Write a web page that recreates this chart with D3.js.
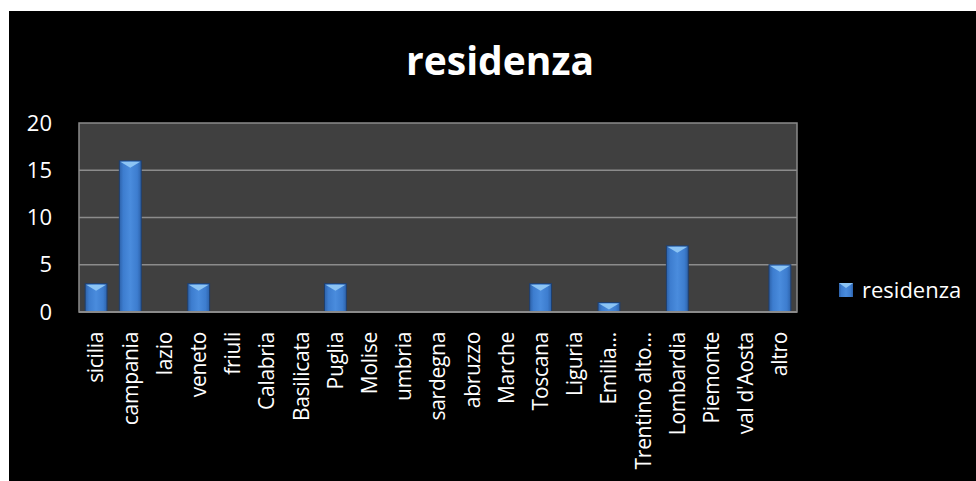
<!DOCTYPE html>
<html>
<head>
<meta charset="utf-8">
<script src="https://cdn.jsdelivr.net/npm/d3@7"></script>
<style>
  body { margin: 0; background: #fff; }
  text { font-family: "Open Sans", sans-serif; fill: #fff; }
</style>
</head>
<body>
<div id="chart"></div>
<script>
const categories = ["sicilia", "campania", "lazio", "veneto", "friuli", "Calabria", "Basilicata",
  "Puglia", "Molise", "umbria", "sardegna", "abruzzo", "Marche", "Toscana", "Liguria",
  "Emilia...", "Trentino alto...", "Lombardia", "Piemonte", "val d'Aosta", "altro"];
const values = [3, 16, 0, 3, 0, 0, 0, 3, 0, 0, 0, 0, 0, 3, 0, 1, 0, 7, 0, 0, 5];
const yTicks = [0, 5, 10, 15, 20];
const seriesName = "residenza";
const title = "residenza";

const width = 976, height = 481;
const plot = {left: 79, right: 797, top: 123, bottom: 312};

const svg = d3.select("#chart").append("svg")
    .attr("width", width)
    .attr("height", height);

// gradients
const defs = svg.append("defs");
const grad = defs.append("linearGradient").attr("id", "barGrad")
    .attr("x1", "0%").attr("x2", "100%").attr("y1", "0%").attr("y2", "0%");
grad.append("stop").attr("offset", "0%").attr("stop-color", "#2d62aa");
grad.append("stop").attr("offset", "18%").attr("stop-color", "#3d7dcf");
grad.append("stop").attr("offset", "50%").attr("stop-color", "#4a8cdd");
grad.append("stop").attr("offset", "82%").attr("stop-color", "#3d7dcf");
grad.append("stop").attr("offset", "100%").attr("stop-color", "#2d62aa");

// black frame
svg.append("rect")
    .attr("x", 9).attr("y", 11)
    .attr("width", width - 9).attr("height", height - 11)
    .attr("fill", "#000");

const x = d3.scaleBand()
    .domain(categories)
    .range([plot.left, plot.right])
    .paddingInner(0.36)
    .paddingOuter(0.18);

const y = d3.scaleLinear()
    .domain([0, 20])
    .range([plot.bottom, plot.top]);

// plot background
svg.append("rect")
    .attr("x", plot.left).attr("y", plot.top)
    .attr("width", plot.right - plot.left).attr("height", plot.bottom - plot.top)
    .attr("fill", "#404040")
    .attr("stroke", "#8a8a8a")
    .attr("stroke-width", 1.5);

// grid lines
svg.append("g")
    .selectAll("line")
    .data(yTicks.filter(d => d > 0 && d < 20))
    .join("line")
        .attr("x1", plot.left).attr("x2", plot.right)
        .attr("y1", d => y(d)).attr("y2", d => y(d))
        .attr("stroke", "#8c8c8c")
        .attr("stroke-width", 1.5);

// y axis labels
const yAxis = svg.append("g")
    .attr("transform", `translate(${plot.left},0)`)
    .call(d3.axisLeft(y).tickValues(yTicks).tickSize(0).tickPadding(27));
yAxis.select(".domain").remove();
yAxis.selectAll("text")
    .attr("fill", "#fff")
    .style("font-size", "22px")
    .style("font-family", "'Open Sans', sans-serif");

// bars
const bars = svg.append("g")
    .selectAll("g")
    .data(categories.map((c, i) => ({cat: c, val: values[i]})).filter(d => d.val > 0))
    .join("g");

bars.append("rect")
    .attr("x", d => x(d.cat))
    .attr("y", d => y(d.val))
    .attr("width", x.bandwidth())
    .attr("height", d => y(0) - y(d.val))
    .attr("fill", "url(#barGrad)")
    .attr("stroke", "#1f3f6e")
    .attr("stroke-width", 1);

// bevel on top of each bar
bars.append("path")
    .attr("d", d => {
        const x0 = x(d.cat) + 1, x1 = x(d.cat) + x.bandwidth() - 1, yt = y(d.val) + 1;
        const xm = (x0 + x1) / 2;
        return `M${x0},${yt}L${x1},${yt}L${xm},${yt + 6}Z`;
    })
    .attr("fill", "#8cc4f4");

// zero line
svg.append("line")
    .attr("x1", plot.left).attr("x2", plot.right)
    .attr("y1", y(0)).attr("y2", y(0))
    .attr("stroke", "#8a8a8a")
    .attr("stroke-width", 2);

// x axis labels
svg.append("g")
    .selectAll("text")
    .data(categories)
    .join("text")
        .attr("transform", d => `translate(${x(d) + x.bandwidth() / 2},332) rotate(-90)`)
        .attr("text-anchor", "end")
        .attr("dy", "0.35em")
        .style("font-size", "21px")
        .style("letter-spacing", "-0.3px")
        .text(d => d);

// title
svg.append("text")
    .attr("x", 500).attr("y", 75)
    .attr("text-anchor", "middle")
    .style("font-size", "39px")
    .style("font-weight", "bold")
    .text(title);

// legend
const legend = svg.append("g").attr("transform", "translate(839,283)");
legend.append("rect")
    .attr("width", 14).attr("height", 14)
    .attr("fill", "url(#barGrad)");
legend.append("path")
    .attr("d", "M0,0L14,0L7,5Z")
    .attr("fill", "#8cc4f4");
legend.append("text")
    .attr("x", 23).attr("y", 7)
    .attr("dy", "0.35em")
    .style("font-size", "22px")
    .text(seriesName);
</script>
</body>
</html>
